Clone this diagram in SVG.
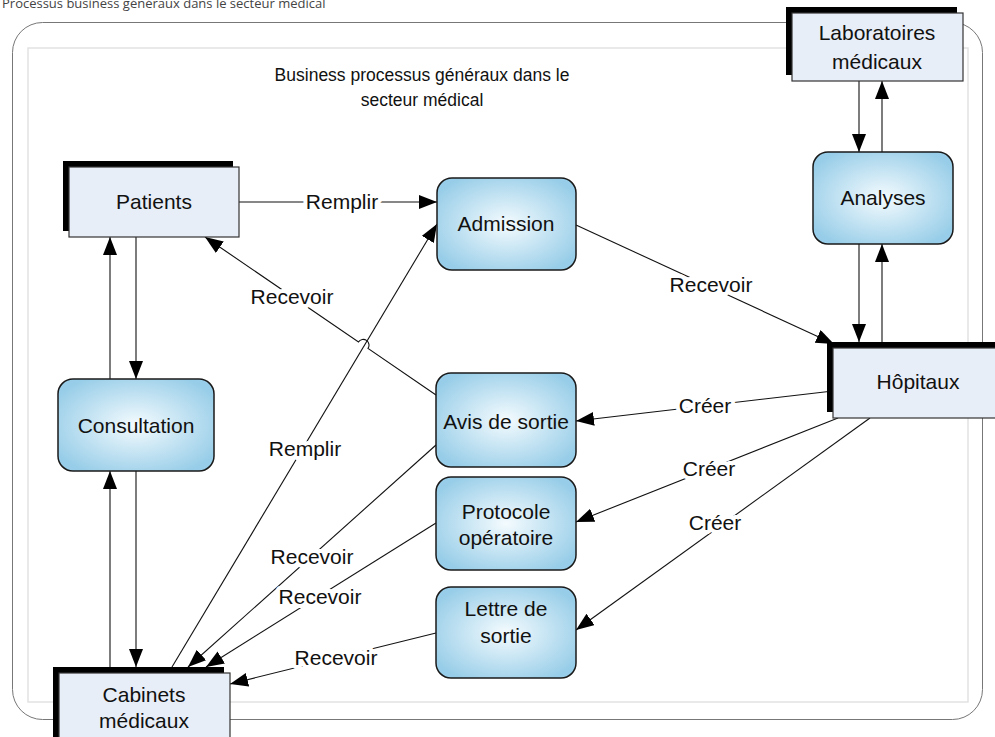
<svg xmlns="http://www.w3.org/2000/svg" width="995" height="737" viewBox="0 0 995 737">
<style>
.t{font-family:"Liberation Sans",Arial,sans-serif;font-size:21px;fill:#111;text-anchor:middle}
.h{font-family:"Liberation Sans",Arial,sans-serif;font-size:17.5px;fill:#111;text-anchor:middle}
.lbl{font-family:"Liberation Sans",Arial,sans-serif;font-size:21px;fill:#111;text-anchor:middle;stroke:#fff;stroke-width:8;paint-order:stroke;stroke-linejoin:round}
.ent{fill:#E8EEF7;stroke:#333;stroke-width:1.2}
.sh{fill:#000}
.proc{fill:url(#g);stroke:#1a1a1a;stroke-width:1.5}
.c{fill:none;stroke:#111;stroke-width:1.1;marker-end:url(#a)}
</style>
<defs>
<radialGradient id="g" cx="50%" cy="50%" r="60%">
<stop offset="0" stop-color="#F4FBFE"/>
<stop offset="1" stop-color="#97CDE8"/>
</radialGradient>
<marker id="a" markerUnits="userSpaceOnUse" markerWidth="19" markerHeight="15" refX="18" refY="7" orient="auto" viewBox="0 0 19 15">
<path d="M0,0 L18,7 L0,14 z" fill="#000"/>
</marker>
</defs>
<rect width="995" height="737" fill="#fff"/>
<text x="2" y="8" style="font-family:'Open Sans','Noto Sans',sans-serif;font-size:13px;fill:#444">Processus business généraux dans le secteur médical</text>
<rect x="12.5" y="22.5" width="970" height="697" rx="30" fill="none" stroke="#777" stroke-width="1"/>
<rect x="28" y="48" width="940" height="654" fill="none" stroke="#e2e2e2" stroke-width="1.5"/>
<g id="heading">
<text class="h" x="422" y="81">Business processus généraux dans le</text>
<text class="h" x="422" y="106">secteur médical</text>
</g>
<g id="connectors">
<line class="c" x1="239" y1="202" x2="437" y2="202"/>
<line class="c" x1="576" y1="225" x2="834" y2="344"/>
<line class="c" x1="859" y1="81" x2="859" y2="152"/>
<line class="c" x1="882" y1="152" x2="882" y2="81"/>
<line class="c" x1="859" y1="244" x2="859" y2="342"/>
<line class="c" x1="882" y1="342" x2="882" y2="244"/>
<path class="c" d="M436,395 L368,348.4 A5,5 0 0 0 358.5,341.9 L205,237"/>
<line class="c" x1="172" y1="667" x2="437" y2="224"/>
<line class="c" x1="833" y1="391" x2="576" y2="421"/>
<line class="c" x1="838" y1="418" x2="576" y2="522"/>
<line class="c" x1="870" y1="418" x2="576" y2="630"/>
<line class="c" x1="110" y1="379" x2="110" y2="237"/>
<line class="c" x1="136" y1="237" x2="136" y2="379"/>
<line class="c" x1="110" y1="667" x2="110" y2="471"/>
<line class="c" x1="136" y1="471" x2="136" y2="667"/>
<line class="c" x1="436" y1="445" x2="188" y2="667"/>
<line class="c" x1="436" y1="523" x2="206" y2="667"/>
<line class="c" x1="436" y1="633" x2="230" y2="684"/>
<text class="lbl" x="342" y="209">Remplir</text>
<text class="lbl" x="711" y="292">Recevoir</text>
<text class="lbl" x="292" y="304">Recevoir</text>
<text class="lbl" x="305" y="456">Remplir</text>
<text class="lbl" x="705" y="413">Créer</text>
<text class="lbl" x="709" y="476">Créer</text>
<text class="lbl" x="715" y="530">Créer</text>
<text class="lbl" x="312" y="564">Recevoir</text>
<text class="lbl" x="320" y="604">Recevoir</text>
<text class="lbl" x="336" y="665">Recevoir</text>
</g>
<g id="labos">
<rect class="sh" x="786" y="7" width="171" height="68"/>
<rect class="ent" x="792" y="13" width="171" height="68"/>
<text class="t" x="877" y="40">Laboratoires</text>
<text class="t" x="877" y="69">médicaux</text>
</g>
<g id="patients">
<rect class="sh" x="63" y="161" width="170" height="70"/>
<rect class="ent" x="69" y="167" width="170" height="70"/>
<text class="t" x="154" y="209">Patients</text>
</g>
<g id="admission">
<rect class="proc" x="437" y="178" width="139" height="92" rx="15"/>
<text class="t" x="506" y="231">Admission</text>
</g>
<g id="analyses">
<rect class="proc" x="813" y="152" width="140" height="92" rx="15"/>
<text class="t" x="883" y="205">Analyses</text>
</g>
<g id="hopitaux">
<rect class="sh" x="827" y="342" width="171" height="70"/>
<rect class="ent" x="833" y="348" width="171" height="70"/>
<text class="t" x="918" y="389">Hôpitaux</text>
</g>
<g id="consultation">
<rect class="proc" x="58" y="379" width="156" height="92" rx="15"/>
<text class="t" x="136" y="433">Consultation</text>
</g>
<g id="avis">
<rect class="proc" x="436" y="373" width="140" height="94" rx="15"/>
<text class="t" x="506" y="429">Avis de sortie</text>
</g>
<g id="protocole">
<rect class="proc" x="436" y="477" width="140" height="93" rx="15"/>
<text class="t" x="506" y="519">Protocole</text>
<text class="t" x="506" y="545">opératoire</text>
</g>
<g id="lettre">
<rect class="proc" x="436" y="587" width="140" height="91" rx="15"/>
<text class="t" x="506" y="616">Lettre de</text>
<text class="t" x="506" y="643">sortie</text>
</g>
<g id="cabinets">
<rect class="sh" x="53" y="667" width="171" height="80"/>
<rect class="ent" x="59" y="673" width="171" height="80"/>
<text class="t" x="144" y="702">Cabinets</text>
<text class="t" x="144" y="728">médicaux</text>
</g>
</svg>
